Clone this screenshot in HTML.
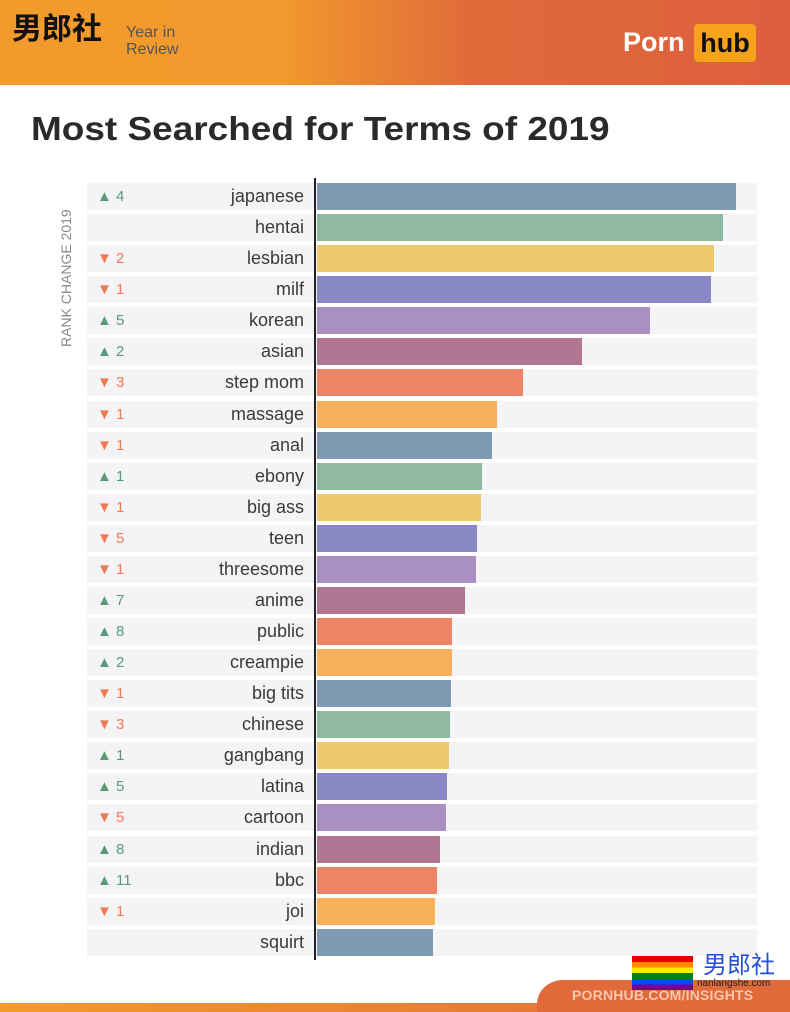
<!DOCTYPE html>
<html><head><meta charset="utf-8"><style>
*{margin:0;padding:0;box-sizing:border-box}
body{width:790px;height:1012px;position:relative;background:#fff;font-family:"Liberation Sans","Noto Sans CJK SC",sans-serif;overflow:hidden}
.hdr{position:absolute;left:0;top:0;width:790px;height:85px;background:linear-gradient(90deg,#f39a2c 0%,#f29a2d 35%,#e06a3a 60%,#dd5f3e 100%)}
.r{position:absolute;left:87px;width:670px;height:27px;background:#f4f4f7}
.b{position:absolute;left:317px;height:27px}
.l{position:absolute;left:150px;width:154px;text-align:right;font-size:18px;color:#3a3a3a;line-height:27px}
.c{position:absolute;left:97px;font-size:15px;line-height:27px}
.u{color:#5a9a78}.d{color:#ef7a55}
</style></head><body>
<div class="hdr"></div>
<div style="position:absolute;left:12px;top:10px;font-size:30px;font-weight:bold;color:#111;line-height:40px">男郎社</div>
<div style="position:absolute;left:126px;top:24px;font-size:16px;color:#555;line-height:17px">Year in<br>Review</div>
<div style="position:absolute;left:623px;top:26px;font-size:27px;font-weight:bold;color:#fff;line-height:32px">Porn</div>
<div style="position:absolute;left:694px;top:24px;width:62px;height:38px;background:#f6a21c;border-radius:4px;font-size:27px;font-weight:bold;color:#111;text-align:center;line-height:38px">hub</div>
<div style="position:absolute;left:31px;top:110px;font-size:33px;font-weight:bold;color:#2a2a2a;transform:scaleX(1.12);transform-origin:0 0;white-space:nowrap">Most Searched for Terms of 2019</div>
<div style="position:absolute;left:58px;top:347px;transform:rotate(-90deg);transform-origin:0 0;font-size:14px;color:#888;white-space:nowrap;width:170px">RANK CHANGE 2019</div>

<div class="r" style="top:183px"></div><div class="b" style="top:183px;width:419px;background:#7e9bb3"></div><div class="c u" style="top:183px">▲ 4</div><div class="l" style="top:183px">japanese</div>
<div class="r" style="top:214px"></div><div class="b" style="top:214px;width:406px;background:#8fb9a0"></div><div class="l" style="top:214px">hentai</div>
<div class="r" style="top:245px"></div><div class="b" style="top:245px;width:397px;background:#ecc96a"></div><div class="c d" style="top:245px">▼ 2</div><div class="l" style="top:245px">lesbian</div>
<div class="r" style="top:276px"></div><div class="b" style="top:276px;width:394px;background:#8a88c2"></div><div class="c d" style="top:276px">▼ 1</div><div class="l" style="top:276px">milf</div>
<div class="r" style="top:307px"></div><div class="b" style="top:307px;width:333px;background:#a98fc3"></div><div class="c u" style="top:307px">▲ 5</div><div class="l" style="top:307px">korean</div>
<div class="r" style="top:338px"></div><div class="b" style="top:338px;width:265px;background:#b07590"></div><div class="c u" style="top:338px">▲ 2</div><div class="l" style="top:338px">asian</div>
<div class="r" style="top:369px"></div><div class="b" style="top:369px;width:206px;background:#ee8466"></div><div class="c d" style="top:369px">▼ 3</div><div class="l" style="top:369px">step mom</div>
<div class="r" style="top:401px"></div><div class="b" style="top:401px;width:180px;background:#f6b15a"></div><div class="c d" style="top:401px">▼ 1</div><div class="l" style="top:401px">massage</div>
<div class="r" style="top:432px"></div><div class="b" style="top:432px;width:175px;background:#7e9bb3"></div><div class="c d" style="top:432px">▼ 1</div><div class="l" style="top:432px">anal</div>
<div class="r" style="top:463px"></div><div class="b" style="top:463px;width:165px;background:#8fb9a0"></div><div class="c u" style="top:463px">▲ 1</div><div class="l" style="top:463px">ebony</div>
<div class="r" style="top:494px"></div><div class="b" style="top:494px;width:164px;background:#ecc96a"></div><div class="c d" style="top:494px">▼ 1</div><div class="l" style="top:494px">big ass</div>
<div class="r" style="top:525px"></div><div class="b" style="top:525px;width:160px;background:#8a88c2"></div><div class="c d" style="top:525px">▼ 5</div><div class="l" style="top:525px">teen</div>
<div class="r" style="top:556px"></div><div class="b" style="top:556px;width:159px;background:#a98fc3"></div><div class="c d" style="top:556px">▼ 1</div><div class="l" style="top:556px">threesome</div>
<div class="r" style="top:587px"></div><div class="b" style="top:587px;width:148px;background:#b07590"></div><div class="c u" style="top:587px">▲ 7</div><div class="l" style="top:587px">anime</div>
<div class="r" style="top:618px"></div><div class="b" style="top:618px;width:135px;background:#ee8466"></div><div class="c u" style="top:618px">▲ 8</div><div class="l" style="top:618px">public</div>
<div class="r" style="top:649px"></div><div class="b" style="top:649px;width:135px;background:#f6b15a"></div><div class="c u" style="top:649px">▲ 2</div><div class="l" style="top:649px">creampie</div>
<div class="r" style="top:680px"></div><div class="b" style="top:680px;width:134px;background:#7e9bb3"></div><div class="c d" style="top:680px">▼ 1</div><div class="l" style="top:680px">big tits</div>
<div class="r" style="top:711px"></div><div class="b" style="top:711px;width:133px;background:#8fb9a0"></div><div class="c d" style="top:711px">▼ 3</div><div class="l" style="top:711px">chinese</div>
<div class="r" style="top:742px"></div><div class="b" style="top:742px;width:132px;background:#ecc96a"></div><div class="c u" style="top:742px">▲ 1</div><div class="l" style="top:742px">gangbang</div>
<div class="r" style="top:773px"></div><div class="b" style="top:773px;width:130px;background:#8a88c2"></div><div class="c u" style="top:773px">▲ 5</div><div class="l" style="top:773px">latina</div>
<div class="r" style="top:804px"></div><div class="b" style="top:804px;width:129px;background:#a98fc3"></div><div class="c d" style="top:804px">▼ 5</div><div class="l" style="top:804px">cartoon</div>
<div class="r" style="top:836px"></div><div class="b" style="top:836px;width:123px;background:#b07590"></div><div class="c u" style="top:836px">▲ 8</div><div class="l" style="top:836px">indian</div>
<div class="r" style="top:867px"></div><div class="b" style="top:867px;width:120px;background:#ee8466"></div><div class="c u" style="top:867px">▲ 11</div><div class="l" style="top:867px">bbc</div>
<div class="r" style="top:898px"></div><div class="b" style="top:898px;width:118px;background:#f6b15a"></div><div class="c d" style="top:898px">▼ 1</div><div class="l" style="top:898px">joi</div>
<div class="r" style="top:929px"></div><div class="b" style="top:929px;width:116px;background:#7e9bb3"></div><div class="l" style="top:929px">squirt</div>

<div style="position:absolute;left:314px;top:178px;width:2px;height:782px;background:#222"></div>

<div style="position:absolute;left:0;top:1003px;width:790px;height:9px;background:linear-gradient(90deg,#f39a2c,#e06a3a)"></div>
<div style="position:absolute;left:537px;top:980px;width:260px;height:32px;background:#e06a3a;border-top-left-radius:26px 24px"></div>
<div style="position:absolute;left:572px;top:987px;font-size:14px;font-weight:bold;color:#f6c8b0;letter-spacing:0.2px">PORNHUB.COM/INSIGHTS</div>
<div style="position:absolute;left:632px;top:956px;width:61px;height:34px;background:linear-gradient(#e40000 0 17%,#ff8c00 17% 34%,#ffed00 34% 50%,#008026 50% 67%,#004dff 67% 84%,#750787 84%)"></div>
<div style="position:absolute;left:703px;top:951px;font-size:24px;color:#2450d8;line-height:30px">男郎社</div>
<div style="position:absolute;left:697px;top:978px;font-size:10px;color:#222">nanlangshe.com</div>
</body></html>
